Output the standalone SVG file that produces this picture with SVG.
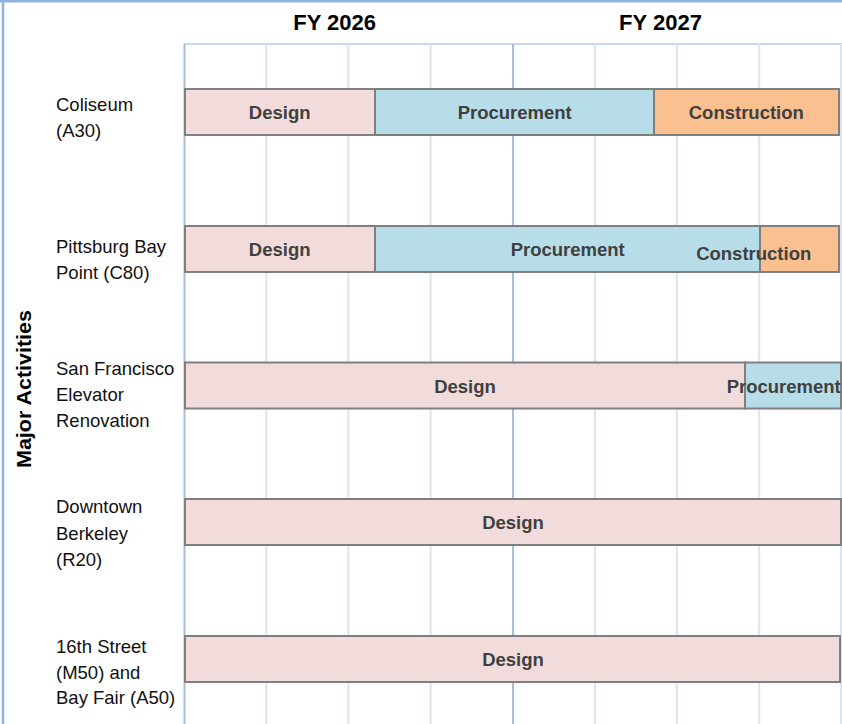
<svg xmlns="http://www.w3.org/2000/svg" width="842" height="724" viewBox="0 0 842 724">
<style>
.bg{fill:#ffffff}
.frame{stroke:#8db3e2;stroke-width:2.5;fill:none}
.minor{stroke:#dbe5f2;stroke-width:2}
.major{stroke:#a4bde0;stroke-width:2}
.top{stroke:#c8d9ef;stroke-width:2}
.bar{stroke:#7f7f7f;stroke-width:2}
.design{fill:#f2dcdb}
.proc{fill:#b7dde8}
.cons{fill:#fac090}
.bt{font-family:"Liberation Sans",Arial,sans-serif;font-weight:bold;font-size:18.5px;fill:#404040;text-anchor:middle}
.hd{font-family:"Liberation Sans",Arial,sans-serif;font-weight:bold;font-size:22px;fill:#000;text-anchor:middle}
.lb{font-family:"Liberation Sans",Arial,sans-serif;font-size:18.5px;fill:#111}
.ax{font-family:"Liberation Sans",Arial,sans-serif;font-weight:bold;font-size:20px;fill:#000;text-anchor:middle}
</style>
<rect class="bg" x="0" y="0" width="842" height="724"/>
<g id="frame">
<line class="frame" x1="0" y1="1.2" x2="842" y2="1.2"/>
<line class="frame" x1="3" y1="0" x2="3" y2="724"/>
</g>
<g id="grid">
<line class="top" x1="184" y1="44" x2="842" y2="44"/>
<line class="minor" x1="266.2" y1="44" x2="266.2" y2="724"/>
<line class="minor" x1="348.4" y1="44" x2="348.4" y2="724"/>
<line class="minor" x1="430.6" y1="44" x2="430.6" y2="724"/>
<line class="minor" x1="594.9" y1="44" x2="594.9" y2="724"/>
<line class="minor" x1="676.8" y1="44" x2="676.8" y2="724"/>
<line class="minor" x1="759.2" y1="44" x2="759.2" y2="724"/>
<line class="minor" x1="841" y1="44" x2="841" y2="724"/>
<line class="major" x1="184.5" y1="44" x2="184.5" y2="724"/>
<line class="major" x1="513" y1="44" x2="513" y2="724"/>
</g>
<g id="headers">
<text class="hd" x="334.7" y="30">FY 2026</text>
<text class="hd" x="660.5" y="30">FY 2027</text>
</g>
<g id="axis-label">
<text class="ax" transform="translate(31,389) rotate(-90)" x="0" y="0" textLength="158" lengthAdjust="spacingAndGlyphs">Major Activities</text>
</g>
<g id="connectors"></g>
<g id="row-coliseum">
<text class="lb" x="56" y="111">Coliseum</text>
<text class="lb" x="56" y="137">(A30)</text>
<rect class="bar design" x="185" y="89" width="190" height="46"/>
<rect class="bar proc" x="375" y="89" width="279" height="46"/>
<rect class="bar cons" x="654" y="89" width="185" height="46"/>
<text class="bt" x="279.7" y="119">Design</text>
<text class="bt" x="514.7" y="119">Procurement</text>
<text class="bt" x="746.3" y="119">Construction</text>
</g>
<g id="row-pittsburg">
<text class="lb" x="56" y="252.5">Pittsburg Bay</text>
<text class="lb" x="56" y="278.5">Point (C80)</text>
<rect class="bar design" x="185" y="226" width="190" height="46"/>
<rect class="bar proc" x="375" y="226" width="385" height="46"/>
<rect class="bar cons" x="760" y="226" width="79" height="46"/>
<text class="bt" x="279.7" y="256">Design</text>
<text class="bt" x="567.7" y="256">Procurement</text>
<text class="bt" x="753.7" y="260">Construction</text>
</g>
<g id="row-sf">
<text class="lb" x="56" y="375">San Francisco</text>
<text class="lb" x="56" y="401">Elevator</text>
<text class="lb" x="56" y="427">Renovation</text>
<rect class="bar design" x="185" y="362.5" width="560" height="46"/>
<rect class="bar proc" x="745" y="362.5" width="96" height="46"/>
<text class="bt" x="465" y="393">Design</text>
<text class="bt" x="783.7" y="393">Procurement</text>
</g>
<g id="row-berkeley">
<text class="lb" x="56" y="513">Downtown</text>
<text class="lb" x="56" y="539.5">Berkeley</text>
<text class="lb" x="56" y="566">(R20)</text>
<rect class="bar design" x="185" y="499" width="656" height="46"/>
<text class="bt" x="513" y="529">Design</text>
</g>
<g id="row-16th">
<text class="lb" x="56" y="652.5">16th Street</text>
<text class="lb" x="56" y="678.5">(M50) and</text>
<text class="lb" x="56" y="704">Bay Fair (A50)</text>
<rect class="bar design" x="185" y="636" width="655" height="46"/>
<text class="bt" x="513" y="666">Design</text>
</g>
</svg>
